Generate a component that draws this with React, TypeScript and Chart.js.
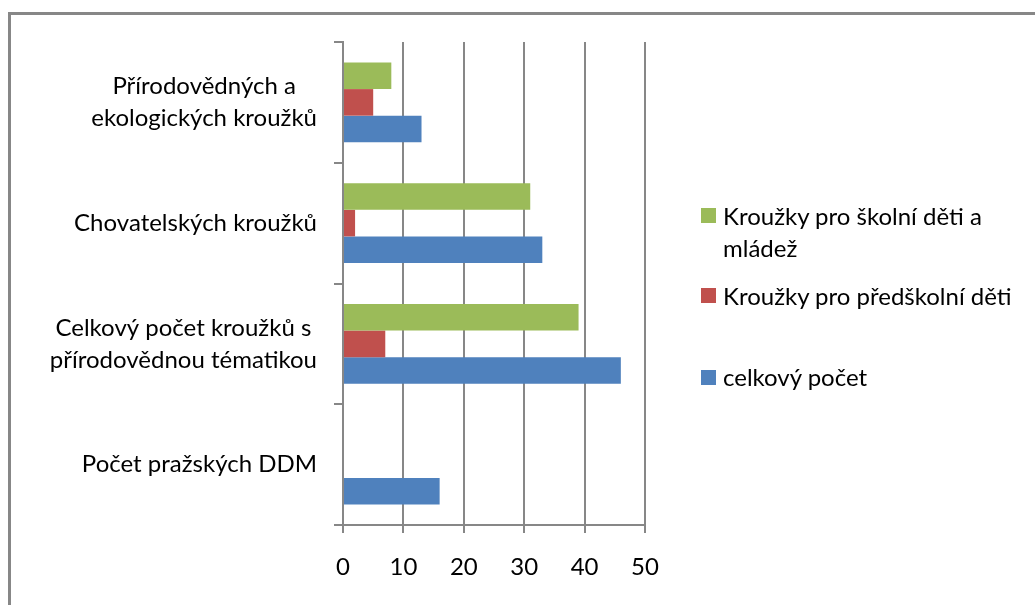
import React, { useEffect, useRef } from "react";
import { Chart, registerables } from "chart.js";

Chart.register(...registerables);

// ---- data ----
const categories: string[][] = [
  ["Přírodovědných a", "ekologických kroužků"],
  ["Chovatelských kroužků"],
  ["Celkový počet kroužků s", "přírodovědnou tématikou"],
  ["Počet pražských DDM"],
];
const seriesNames = [
  "Kroužky pro školní děti a mládež",
  "Kroužky pro předškolní děti",
  "celkový počet",
];
const skolniDeti: (number | null)[] = [8, 31, 39, null];
const predskolniDeti: (number | null)[] = [5, 2, 7, null];
const celkovyPocet: (number | null)[] = [13, 33, 46, 16];
const xMin = 0;
const xMax = 50;
const xStep = 10;

// ---- styles ----
const FONT = "Lato, 'Noto Sans', sans-serif";
const FONT_SIZE = 24;
const COLORS = ["#9BBB59", "#C0504D", "#4F81BD"];
const GRID = "#878787";
const W = 1035;
const H = 605;
const PLOT = { left: 343, right: 645, top: 42, bottom: 525 };
const LABEL_RIGHT = 317;
const LABEL_LINE_H = 32;

const yLabelPlugin = {
  id: "yLabelsCentered",
  afterDraw(chart: any) {
    const ctx = chart.ctx as CanvasRenderingContext2D;
    const scale = chart.scales.y;
    ctx.save();
    ctx.font = `${FONT_SIZE}px ${FONT}`;
    ctx.fillStyle = "#000";
    ctx.textBaseline = "middle";
    ctx.textAlign = "center";
    categories.forEach((lines, i) => {
      const yc = scale.getPixelForTick(i);
      const maxW = Math.max(...lines.map((l) => ctx.measureText(l).width));
      const cx = LABEL_RIGHT - maxW / 2;
      lines.forEach((l, j) => {
        ctx.fillText(l, cx, yc + (j - (lines.length - 1) / 2) * LABEL_LINE_H);
      });
    });
    ctx.restore();
  },
};

export default function App() {
  const ref = useRef<HTMLCanvasElement | null>(null);

  useEffect(() => {
    if (!ref.current) return;
    const chart = new Chart(ref.current, {
      type: "bar",
      data: {
        labels: categories.map((c) => c.join(" ")),
        datasets: [
          { label: seriesNames[0], data: skolniDeti, backgroundColor: COLORS[0] },
          { label: seriesNames[1], data: predskolniDeti, backgroundColor: COLORS[1] },
          { label: seriesNames[2], data: celkovyPocet, backgroundColor: COLORS[2] },
        ],
      },
      options: {
        indexAxis: "y",
        animation: false,
        responsive: false,
        maintainAspectRatio: false,
        layout: {
          padding: { left: 0, top: PLOT.top, right: W - PLOT.right, bottom: 0 },
        },
        datasets: {
          bar: { categoryPercentage: 0.66, barPercentage: 1 },
        },
        plugins: {
          legend: { display: false },
          tooltip: { enabled: false },
          title: { display: false },
        },
        scales: {
          x: {
            min: xMin,
            max: xMax,
            ticks: {
              stepSize: xStep,
              color: "#000",
              font: { family: FONT, size: FONT_SIZE },
              padding: 20,
            },
            grid: { color: GRID, lineWidth: 2, tickLength: 8, drawTicks: true },
            border: { color: GRID, width: 2 },
            afterFit: (s: any) => {
              s.height = H - PLOT.bottom;
            },
          },
          y: {
            ticks: {
              color: "rgba(0,0,0,0)",
              font: { family: FONT, size: FONT_SIZE },
            },
            grid: {
              drawOnChartArea: false,
              tickLength: 9,
              color: GRID,
              lineWidth: 2,
              offset: true,
            },
            border: { color: GRID, width: 2 },
            afterFit: (s: any) => {
              s.width = PLOT.left;
            },
          },
        },
      },
      plugins: [yLabelPlugin],
    });
    return () => chart.destroy();
  }, []);

  const legendItems = [
    { name: seriesNames[0], color: COLORS[0], boxTop: 208, textTop: 200 },
    { name: seriesNames[1], color: COLORS[1], boxTop: 288, textTop: 280 },
    { name: seriesNames[2], color: COLORS[2], boxTop: 370, textTop: 361 },
  ];

  return (
    <div
      style={{
        position: "fixed",
        left: 0,
        top: 0,
        width: W,
        height: H,
        background: "#fff",
        overflow: "hidden",
      }}
    >
      <div
        style={{
          position: "absolute",
          left: 8,
          top: 12,
          right: 0,
          bottom: 0,
          borderLeft: `3px solid ${GRID}`,
          borderTop: `3px solid ${GRID}`,
        }}
      />
      <canvas
        ref={ref}
        width={W}
        height={H}
        style={{ position: "absolute", left: 0, top: 0, width: W, height: H }}
      />
      {legendItems.map((it) => (
        <React.Fragment key={it.name}>
          <div
            style={{
              position: "absolute",
              left: 701,
              top: it.boxTop,
              width: 15,
              height: 15,
              background: it.color,
            }}
          />
          <div
            style={{
              position: "absolute",
              left: 723,
              top: it.textTop,
              width: 300,
              fontFamily: FONT,
              fontSize: FONT_SIZE,
              lineHeight: "32px",
              color: "#000",
            }}
          >
            {it.name}
          </div>
        </React.Fragment>
      ))}
    </div>
  );
}
